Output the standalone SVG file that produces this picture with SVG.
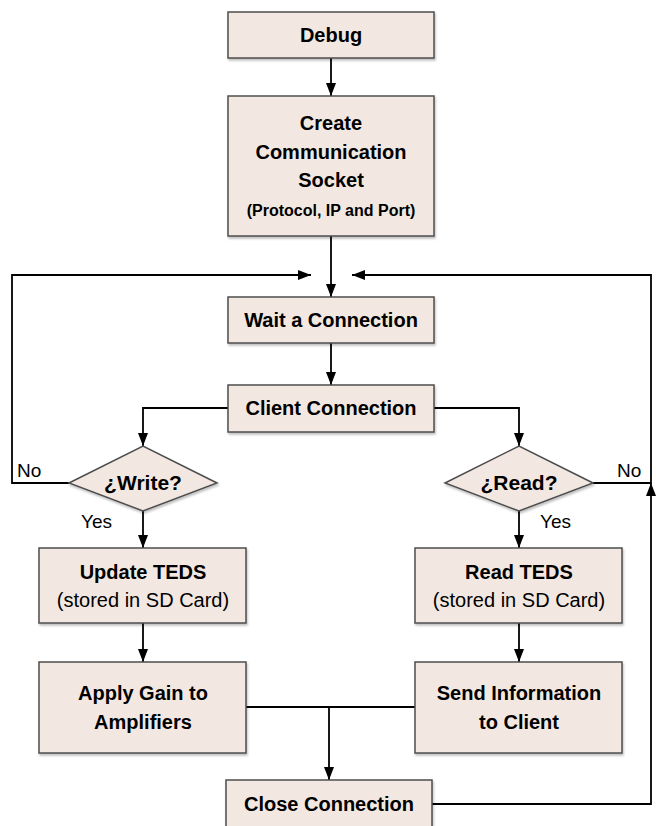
<svg xmlns="http://www.w3.org/2000/svg" width="656" height="826" viewBox="0 0 656 826">
  <defs>
    <marker id="arr" markerUnits="userSpaceOnUse" markerWidth="13" markerHeight="10" refX="13" refY="5" orient="auto">
      <path d="M0,0 L13,5 L0,10 z" fill="#000"/>
    </marker>
    <filter id="sh" x="-5%" y="-5%" width="115%" height="120%">
      <feDropShadow dx="1" dy="2" stdDeviation="1" flood-color="#000" flood-opacity="0.25"/>
    </filter>
    <style>
      .box { fill: #f3e8e1; stroke: #4d4d4d; stroke-width: 1.5; filter: url(#sh); }
      .t { font-family: "Liberation Sans", Arial, sans-serif; font-size: 20px; font-weight: bold; fill: #000; text-anchor: middle; }
      .d { font-family: "Liberation Sans", Arial, sans-serif; font-size: 21px; font-weight: bold; fill: #000; text-anchor: middle; }
      .s { font-family: "Liberation Sans", Arial, sans-serif; font-size: 16px; font-weight: bold; fill: #000; text-anchor: middle; }
      .r { font-family: "Liberation Sans", Arial, sans-serif; font-size: 20px; fill: #000; text-anchor: middle; }
      .lbl { font-family: "Liberation Sans", Arial, sans-serif; font-size: 19px; fill: #000; }
      .c { fill: none; stroke: #000; stroke-width: 1.8; }
      .a { marker-end: url(#arr); }
    </style>
  </defs>
  <rect width="656" height="826" fill="#fff"/>

  <g id="connectors">
    <path class="c a" d="M331,58 V96"/>
    <path class="c a" d="M331,236 V297"/>
    <path class="c a" d="M331,343 V385"/>
    <path class="c a" d="M228,408 H143 V446"/>
    <path class="c a" d="M434,408 H519 V446"/>
    <path class="c a" d="M69,483 H12 V275 H311"/>
    <path class="c" d="M593,483 H651"/>
    <path class="c a" d="M432,804 H651 V483"/>
    <path class="c a" d="M651,483 V275 H352"/>
    <path class="c a" d="M143,511 V548"/>
    <path class="c a" d="M519,511 V548"/>
    <path class="c a" d="M143,623 V662"/>
    <path class="c a" d="M519,623 V662"/>
    <path class="c" d="M246,707 H415"/>
    <path class="c a" d="M329,707 V780"/>
  </g>

  <g id="debug">
    <rect class="box" x="228" y="12" width="206" height="46"/>
    <text class="t" x="331" y="42">Debug</text>
  </g>
  <g id="create-socket">
    <rect class="box" x="228" y="96" width="206" height="140"/>
    <text class="t" x="331" y="130">Create</text>
    <text class="t" x="331" y="159">Communication</text>
    <text class="t" x="331" y="187">Socket</text>
    <text class="s" x="331" y="216">(Protocol, IP and Port)</text>
  </g>
  <g id="wait-connection">
    <rect class="box" x="228" y="297" width="206" height="46"/>
    <text class="t" x="331" y="327">Wait a Connection</text>
  </g>
  <g id="client-connection">
    <rect class="box" x="228" y="385" width="206" height="47"/>
    <text class="t" x="331" y="415">Client Connection</text>
  </g>
  <g id="write">
    <polygon class="box" points="69,483 143,446 217,483 143,511"/>
    <text class="d" x="143" y="490">¿Write?</text>
  </g>
  <g id="read">
    <polygon class="box" points="445,483 519,446 593,483 519,511"/>
    <text class="d" x="519" y="490">¿Read?</text>
  </g>
  <g id="update-teds">
    <rect class="box" x="39" y="548" width="207" height="75"/>
    <text class="t" x="143" y="579">Update TEDS</text>
    <text class="r" x="143" y="607">(stored in SD Card)</text>
  </g>
  <g id="read-teds">
    <rect class="box" x="415" y="548" width="207" height="75"/>
    <text class="t" x="519" y="579">Read TEDS</text>
    <text class="r" x="519" y="607">(stored in SD Card)</text>
  </g>
  <g id="apply-gain">
    <rect class="box" x="39" y="662" width="207" height="91"/>
    <text class="t" x="143" y="700">Apply Gain to</text>
    <text class="t" x="143" y="729">Amplifiers</text>
  </g>
  <g id="send-information">
    <rect class="box" x="415" y="662" width="207" height="91"/>
    <text class="t" x="519" y="700">Send Information</text>
    <text class="t" x="519" y="729">to Client</text>
  </g>
  <g id="close-connection">
    <rect class="box" x="226" y="780" width="206" height="60"/>
    <text class="t" x="329" y="811">Close Connection</text>
  </g>

  <g id="labels">
    <text class="lbl" x="17" y="477">No</text>
    <text class="lbl" x="617" y="477">No</text>
    <text class="lbl" x="81" y="528">Yes</text>
    <text class="lbl" x="540" y="528">Yes</text>
  </g>
</svg>
